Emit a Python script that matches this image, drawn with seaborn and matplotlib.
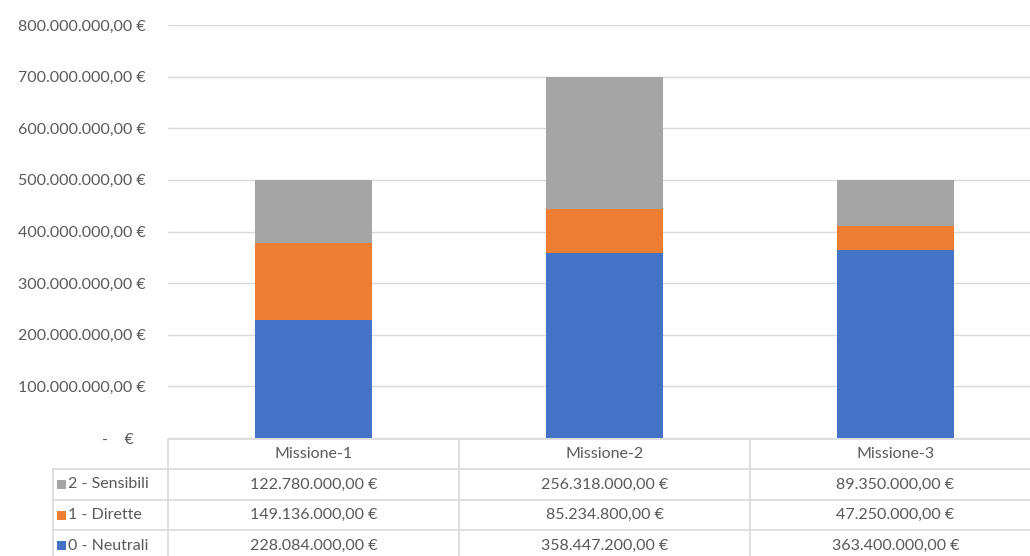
import matplotlib
matplotlib.use("Agg")
import matplotlib.pyplot as plt
import seaborn as sns
import pandas as pd
import numpy as np
from matplotlib.transforms import blended_transform_factory
from matplotlib.lines import Line2D
from matplotlib.patches import Rectangle

# ---- data ----
categories = ["Missione-1", "Missione-2", "Missione-3"]
series_names = ["0 - Neutrali", "1 - Dirette", "2 - Sensibili"]
neutrali = [228084000.00, 358447200.00, 363400000.00]
dirette = [149136000.00, 85234800.00, 47250000.00]
sensibili = [122780000.00, 256318000.00, 89350000.00]
y_ticks = [0, 100e6, 200e6, 300e6, 400e6, 500e6, 600e6, 700e6, 800e6]

colors = {"0 - Neutrali": "#4472C4", "1 - Dirette": "#ED7D31", "2 - Sensibili": "#A5A5A5"}
TXT = "#595959"
GRID = "#D9D9D9"
FS = 11.5

sns.set_theme(style="white")
plt.rcParams["font.family"] = ["Lato", "DejaVu Sans"]


def euro(v):
    s = f"{v:,.2f}".replace(",", "X").replace(".", ",").replace("X", ".")
    return s + " €"


W, H = 1030, 556
fig = plt.figure(figsize=(W / 100, H / 100), dpi=100)
ax_left, ax_right_px = 168, 1030
ax_top, ax_bot = 25, 438
ax = fig.add_axes([ax_left / W, 1 - ax_bot / H, (ax_right_px - ax_left) / W, (ax_bot - ax_top) / H])

series_vals = {"0 - Neutrali": neutrali, "1 - Dirette": dirette, "2 - Sensibili": sensibili}
cum = np.zeros(len(categories))
layers = []
for name in series_names:
    cum = cum + np.array(series_vals[name])
    layers.append((name, cum.copy()))

# draw back to front (tallest cumulative first)
for name, top in reversed(layers):
    df = pd.DataFrame({"cat": categories, "val": top})
    sns.barplot(data=df, x="cat", y="val", color=colors[name], width=0.40,
                saturation=1, ax=ax, zorder=3, linewidth=0)

col_w = 291.0
xmax = -0.5 + (ax_right_px - ax_left) / col_w
ax.set_xlim(-0.5, xmax)
ax.set_ylim(0, 800e6)
ax.set_yticks(y_ticks)
ax.set_yticklabels(["-    €   " if v == 0 else euro(v) for v in y_ticks])
ax.tick_params(axis="y", length=0, pad=16, labelsize=FS, labelcolor=TXT)
ax.set_xticks([])
ax.set_xlabel("")
ax.set_ylabel("")
for s in ax.spines.values():
    s.set_visible(False)
ax.yaxis.grid(True, color=GRID, lw=1.0, zorder=0)
ax.set_axisbelow(True)

# ---- data table below the axes ----
def fy(ypix):
    return 1 - ypix / H

def fx(xpix):
    return xpix / W

tr = blended_transform_factory(ax.transData, fig.transFigure)
row_lines = [439, 469, 500, 530, 561]
label_left = 53

fig.add_artist(Line2D([fx(ax_left), 1.0], [fy(row_lines[0])] * 2, color=GRID, lw=1.2))
for yl in row_lines[1:]:
    fig.add_artist(Line2D([fx(label_left), 1.0], [fy(yl)] * 2, color=GRID, lw=1.2))
fig.add_artist(Line2D([fx(label_left)] * 2, [fy(row_lines[1]), fy(row_lines[-1])], color=GRID, lw=1.2))
for i in range(len(categories)):
    xb = i - 0.5
    ax.add_artist(Line2D([xb, xb], [fy(row_lines[0]), fy(row_lines[-1])], color=GRID, lw=1.2,
                         transform=tr, clip_on=False))

# header
for i, c in enumerate(categories):
    ax.text(i, fy((row_lines[0] + row_lines[1]) / 2), c, transform=tr, ha="center",
            va="center", fontsize=FS, color=TXT, clip_on=False)

# rows (top to bottom: Sensibili, Dirette, Neutrali)
for r, name in enumerate(reversed(series_names)):
    yc = fy((row_lines[r + 1] + row_lines[r + 2]) / 2)
    fig.add_artist(Rectangle((fx(57), yc - 4.5 / H), 9 / W, 9 / H, transform=fig.transFigure,
                             color=colors[name], lw=0))
    fig.text(fx(68), yc, name, ha="left", va="center", fontsize=FS, color=TXT)
    for i, v in enumerate(series_vals[name]):
        ax.text(i, yc, euro(v), transform=tr, ha="center", va="center", fontsize=FS,
                color=TXT, clip_on=False)

fig.savefig("out.png", dpi=100, facecolor="white")
